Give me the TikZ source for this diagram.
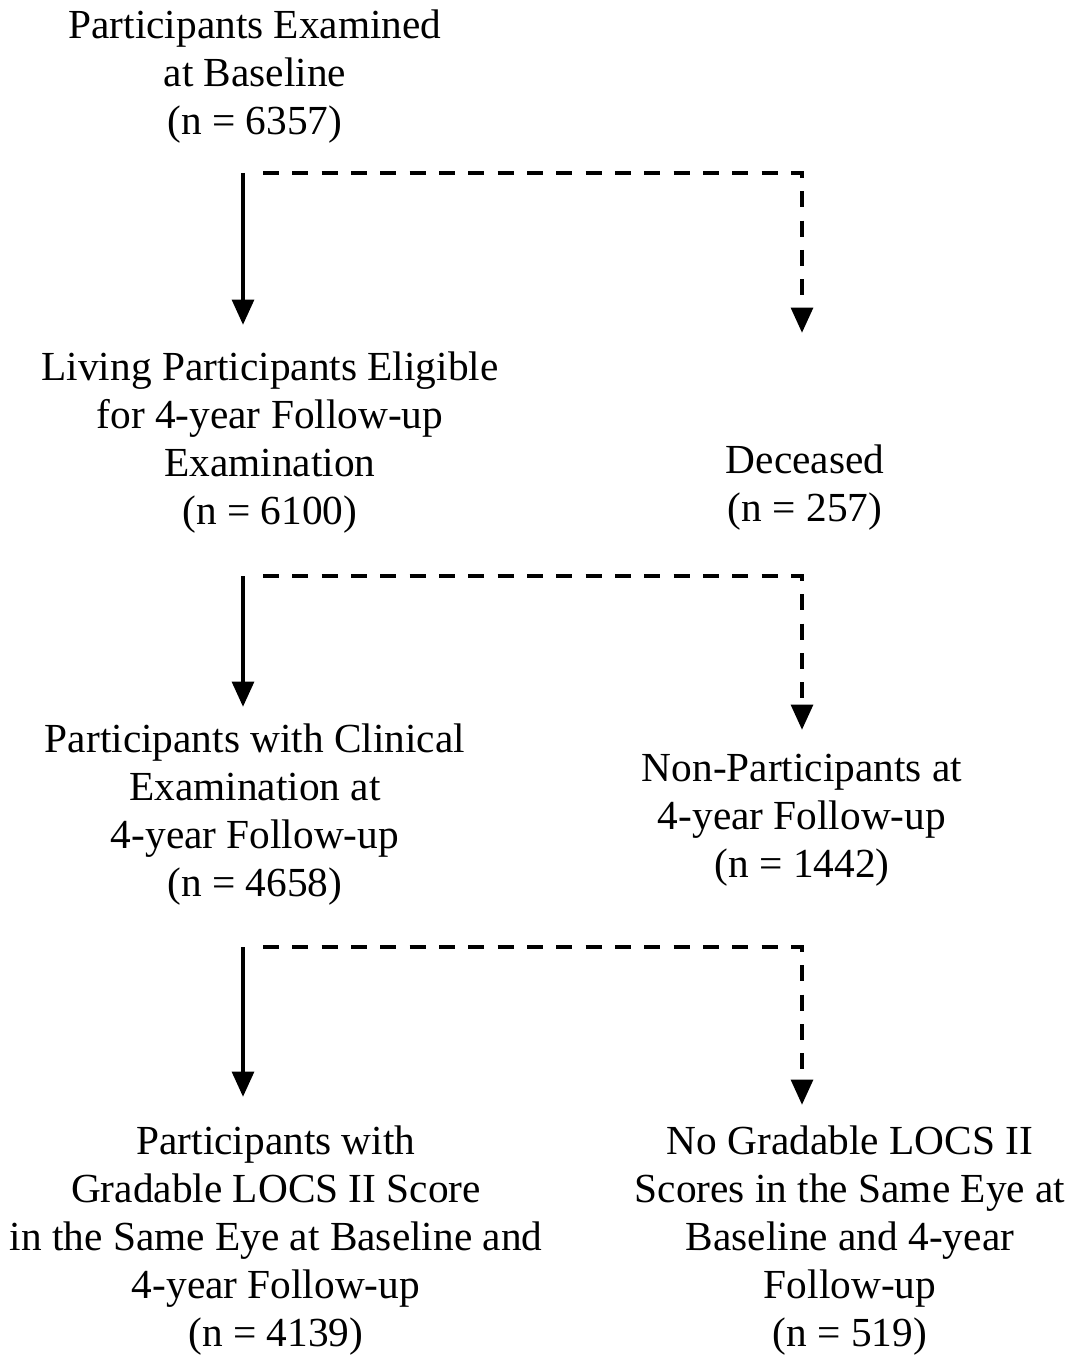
\documentclass[tikz,border=0pt]{standalone}
\usepackage{fontspec}
\setmainfont{Liberation Serif}
\usetikzlibrary{arrows.meta}

\tikzset{every picture/.style={line width=3.6pt}}
\tikzset{
  stage/.style={anchor=north, inner sep=0pt, align=center, font=\fontsize{31}{36}\selectfont},
  keep/.style={-{Triangle[length=19pt,width=16pt]}},
  drop/.style={-{Triangle[length=19pt,width=16pt]}, dash pattern=on 12pt off 10pt},
}

\begin{document}
\begin{tikzpicture}[x=0.75pt,y=0.75pt,yscale=-1,xscale=1]
    \useasboundingbox (0,0) rectangle (1079,1355);

    % Text Node
    \node [stage] (baseline) at (255,7) {Participants Examined\\at Baseline\\(n = 6357)};
    % Text Node
    \node [stage] (eligible) at (270,349) {Living Participants Eligible\\for 4-year Follow-up\\Examination\\(n = 6100)};
    % Text Node
    \node [stage] (deceased) at (805,442) {Deceased\\(n = 257)};
    % Text Node
    \node [stage] (clinical) at (255,721) {Participants with Clinical\\Examination at\\4-year Follow-up\\(n = 4658)};
    % Text Node
    \node [stage] (nonpart) at (802,752) {Non-Participants at\\4-year Follow-up\\(n = 1442)};
    % Text Node
    \node [stage] (gradable) at (276,1123) {Participants with\\Gradable LOCS II Score\\in the Same Eye at Baseline and\\4-year Follow-up\\(n = 4139)};
    % Text Node
    \node [stage] (nograde) at (850,1123) {No Gradable LOCS II\\Scores in the Same Eye at\\Baseline and 4-year\\Follow-up\\(n = 519)};

    %Arrow ends
    \coordinate (k1) at (243,173);   \coordinate (k1e) at (243,325);
    \coordinate (d1) at (263,173);   \coordinate (c1) at (802,173);   \coordinate (d1e) at (802,333);
    \coordinate (k2) at (243,576);   \coordinate (k2e) at (243,707);
    \coordinate (d2) at (263,576);   \coordinate (c2) at (802,576);   \coordinate (d2e) at (802,730);
    \coordinate (k3) at (243,947);   \coordinate (k3e) at (243,1097);
    \coordinate (d3) at (263,947);   \coordinate (c3) at (802,947);   \coordinate (d3e) at (802,1105);

    %Straight Lines
    \draw [keep] (k1) -- (k1e);
    \draw [drop] (d1) -- (c1) -- (d1e);
    %Straight Lines
    \draw [keep] (k2) -- (k2e);
    \draw [drop] (d2) -- (c2) -- (d2e);
    %Straight Lines
    \draw [keep] (k3) -- (k3e);
    \draw [drop] (d3) -- (c3) -- (d3e);

\end{tikzpicture}
\end{document}
